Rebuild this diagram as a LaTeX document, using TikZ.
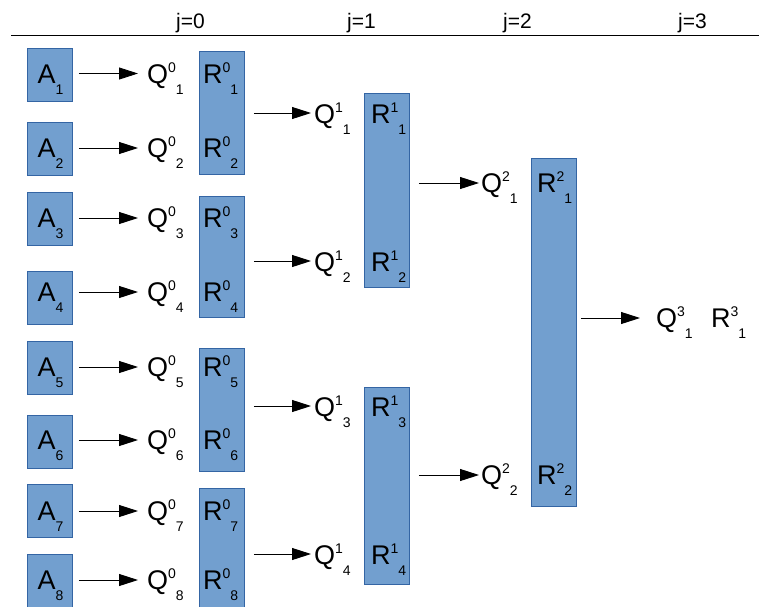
\documentclass[tikz,border=0pt]{standalone}
\usepackage{fontspec}
\setmainfont{Liberation Sans}
\usetikzlibrary{arrows.meta,calc}
\definecolor{boxfill}{HTML}{729FCF}
\definecolor{boxline}{HTML}{3465A4}
\newcommand{\lbl}[3]{#1\raisebox{11pt}{\fontsize{14}{14}\selectfont #2}\raisebox{-11pt}{\fontsize{14}{14}\selectfont #3}}
\tikzset{
  box/.style={draw=boxline, fill=boxfill, line width=0.8pt, inner sep=0pt, anchor=north west, minimum width=45pt},
  lab/.style={anchor=base west, inner sep=0pt, font=\fontsize{27}{27}\selectfont},
  hdr/.style={anchor=base, inner sep=0pt, font=\fontsize{21}{21}\selectfont},
  arr/.style={-{Triangle[length=19pt,width=12pt]}, line width=0.9pt}
}
\begin{document}
\begin{tikzpicture}[x=1pt,y=-1pt]
\useasboundingbox (0,0) rectangle (763,606);
\clip (0,0) rectangle (763,606);
% header
\foreach \j/\x in {0/190.5,1/361.5,2/517.5,3/692.5}
  \node[hdr] (j\j) at (\x,28) {j=\j};
\draw[line width=1pt] (11,35) -- (759,35);
% R boxes
\foreach \n/\t/\h in {a/51/123, b/196/121, c/348/123, d/488/124}
  \node[box, minimum height=\h pt] (p0\n) at (199,\t) {};
\node[box, minimum height=194pt] (p1a) at (364,93) {};
\node[box, minimum height=197pt] (p1b) at (364,387) {};
\node[box, minimum height=348pt] (p2a) at (531,158) {};
% level 0 rows
\foreach \i/\t/\a in {1/48/73.5, 2/122/148, 3/192/218, 4/271/292, 5/341/367, 6/415/440, 7/484/511, 8/554/580}{
  \node[box, minimum height=53pt] (a\i) at (27,\t) {};
  \node[lab] (la\i) at (37.5,\a+9.5) {\lbl{A}{}{\i}};
  \node[lab] (q0\i) at (147,\a+9.5) {\lbl{Q}{0}{\i}};
  \node[lab] (r0\i) at (203,\a+9.5) {\lbl{R}{0}{\i}};
  \draw[arr] ($(a\i.east |- la\i.base)+(6pt,9.5pt)$) -- ($(q0\i.base west)+(-9pt,9.5pt)$);
}
% level 1
\foreach \k/\a/\n in {1/113/a, 2/261/b, 3/406/c, 4/554/d}{
  \node[lab] (q1\k) at (314,\a+10) {\lbl{Q}{1}{\k}};
  \node[lab] (r1\k) at (371,\a+10) {\lbl{R}{1}{\k}};
  \draw[arr] ($(p0\n.east |- q1\k.base)+(9pt,10pt)$) -- ($(q1\k.base west)+(-3pt,10pt)$);
}
% level 2
\foreach \k/\a/\n in {1/183/a, 2/475/b}{
  \node[lab] (q2\k) at (481,\a+9.5) {\lbl{Q}{2}{\k}};
  \node[lab] (r2\k) at (537,\a+9.5) {\lbl{R}{2}{\k}};
  \draw[arr] ($(p1\n.east |- q2\k.base)+(9pt,9.5pt)$) -- ($(q2\k.base west)+(-2pt,9.5pt)$);
}
% level 3
\node[lab] (q31) at (656,327.5) {\lbl{Q}{3}{1}};
\node[lab] (r31) at (711,327.5) {\lbl{R}{3}{1}};
\draw[arr] ($(p2a.east |- q31.base)+(4pt,9.5pt)$) -- ($(q31.base west)+(-16pt,9.5pt)$);
\end{tikzpicture}
\end{document}
